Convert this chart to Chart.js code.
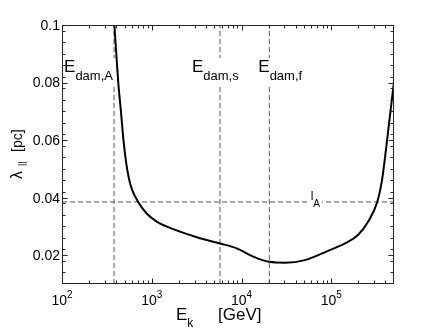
<!DOCTYPE html>
<html>
<head>
<meta charset="utf-8">
<script src="https://cdn.jsdelivr.net/npm/chart.js@4/dist/chart.umd.min.js"></script>
<style>
html,body{margin:0;padding:0;background:#fff;}
#c{display:block;}
</style>
</head>
<body>
<canvas id="c" width="436" height="330"></canvas>
<script>
// ---------- data ----------
const energyGeV = [383, 400, 424, 454, 484, 517, 558, 603, 703, 878, 1136, 1597, 2064, 3447, 5760, 8840, 13540, 20400, 30520, 51000, 92000, 142300, 198600, 256800, 326000, 367800, 414800, 451500, 500000];
const lambdaPc  = [0.1, 0.0913, 0.0798, 0.0698, 0.0600, 0.0524, 0.0465, 0.0428, 0.0386, 0.0345, 0.0317, 0.0295, 0.0282, 0.0259, 0.0241, 0.0224, 0.0195, 0.0177, 0.0174, 0.0183, 0.0215, 0.0241, 0.0270, 0.0316, 0.0386, 0.0461, 0.0589, 0.0687, 0.0802];
const dampingEnergies = [380, 5750, 20400];
const dampingSubscripts = ['dam,A', 'dam,s', 'dam,f'];
const lA = 0.0385;
const xRange = [100, 500000];
const yRange = [0.01, 0.1];
const xTickValues = [100, 1000, 10000, 100000];
const xTickExponents = ['2', '3', '4', '5'];
const yTickValues = [0.02, 0.04, 0.06, 0.08, 0.1];
const yTickLabels = ['0.02', '0.04', '0.06', '0.08', '0.1'];
const yMinorStep = 0.004;

// ---------- drawing helpers ----------
const FONT = "'Liberation Sans', Arial, Helvetica, sans-serif";
function measureParts(ctx, parts) {
  let w = 0;
  for (const p of parts) { ctx.font = p[1] + 'px ' + FONT; w += ctx.measureText(p[0]).width; }
  return w;
}
function drawParts(ctx, parts, x, y, align) {
  const total = measureParts(ctx, parts);
  let cx = align === 'center' ? x - total / 2 : (align === 'right' ? x - total : x);
  ctx.textAlign = 'left';
  ctx.textBaseline = 'alphabetic';
  for (const p of parts) {
    ctx.font = p[1] + 'px ' + FONT;
    ctx.fillText(p[0], cx, y + (p[2] || 0));
    cx += ctx.measureText(p[0]).width;
  }
  return total;
}

const annotationPlugin = {
  id: 'annot',
  afterDatasetDraw(chart, args) {
    if (args.index !== 1) return;
    const ctx = chart.ctx;
    const xs = chart.scales.x, ys = chart.scales.y;
    ctx.save();
    const labels = [];
    const offsets = [-50, -28, -11];
    dampingEnergies.forEach((e, i) => {
      const px = xs.getPixelForValue(e);
      labels.push({parts: [['E', 17, 0], [dampingSubscripts[i], 13, 8]], x: px + offsets[i], y: 72, top: 58, bottom: 84});
    });
    const ly = ys.getPixelForValue(lA);
    labels.push({parts: [['l', 12, 0], ['A', 10, 7]], x: 310.7, y: ly - 1.5, top: ly - 11, bottom: ly + 7});
    for (const l of labels) {
      const w = measureParts(ctx, l.parts);
      ctx.fillStyle = '#fff';
      ctx.fillRect(l.x - 2, l.top, w + 4, l.bottom - l.top);
      ctx.fillStyle = '#000';
      drawParts(ctx, l.parts, l.x, l.y, 'left');
    }
    ctx.restore();
  },
  afterDraw(chart) {
    const ctx = chart.ctx;
    const a = chart.chartArea;
    const xs = chart.scales.x, ys = chart.scales.y;
    ctx.save();
    // frame
    ctx.strokeStyle = '#262626';
    ctx.lineWidth = 1;
    ctx.strokeRect(Math.round(a.left) + 0.5, Math.round(a.top) + 0.5, Math.round(a.right - a.left) - 1, Math.round(a.bottom - a.top) - 1);
    ctx.beginPath();
    const L = Math.round(a.left) + 0.5, R = Math.round(a.right) - 0.5, T = Math.round(a.top) + 0.5, B = Math.round(a.bottom) - 0.5;
    // x ticks
    const xTick = (v, len) => {
      const px = Math.round(xs.getPixelForValue(v)) + 0.5;
      ctx.moveTo(px, B); ctx.lineTo(px, B - len);
      ctx.moveTo(px, T); ctx.lineTo(px, T + len);
    };
    for (let d = 2; d <= 5; d++) {
      const base = Math.pow(10, d);
      xTick(base, 5);
      for (let k = 2; k <= 9; k++) { const v = k * base; if (v < xRange[1]) xTick(v, 3); }
    }
    // y ticks
    const yTick = (v, len) => {
      const py = Math.round(ys.getPixelForValue(v)) + 0.5;
      ctx.moveTo(L, py); ctx.lineTo(L + len, py);
      ctx.moveTo(R, py); ctx.lineTo(R - len, py);
    };
    for (let i = 1; i * yMinorStep + yRange[0] < yRange[1] + 1e-9; i++) {
      const v = +(yRange[0] + i * yMinorStep).toFixed(4);
      if (yTickValues.some(t => Math.abs(t - v) < 1e-6)) continue;
      yTick(v, 3);
    }
    yTickValues.forEach(v => yTick(v, 5));
    ctx.stroke();

    ctx.fillStyle = '#000';
    // y tick labels
    ctx.font = '14px ' + FONT;
    ctx.textAlign = 'right';
    ctx.textBaseline = 'middle';
    yTickValues.forEach((v, i) => ctx.fillText(yTickLabels[i], a.left - 2, ys.getPixelForValue(v) + 1));
    // x tick labels
    xTickValues.forEach((v, i) => {
      drawParts(ctx, [['10', 14, 0], [xTickExponents[i], 10, -7]], xs.getPixelForValue(v), 305, 'center');
    });
    // x title
    drawParts(ctx, [['E', 17, 0], ['k', 12, 7]], 176, 320, 'left');
    drawParts(ctx, [['[GeV]', 17, 0]], 218, 320, 'left');
    // y title (rotated)
    ctx.translate(22, 179);
    ctx.rotate(-Math.PI / 2);
    ctx.textAlign = 'left';
    ctx.textBaseline = 'alphabetic';
    ctx.font = '16px ' + FONT;
    ctx.fillText('\u03BB', 0, 0);
    ctx.font = '9px ' + FONT;
    ctx.fillText('||', 13, 3);
    ctx.font = '14px ' + FONT;
    ctx.fillText('[pc]', 27, 0);
    ctx.restore();
  }
};

const curve = energyGeV.map((e, i) => ({x: e, y: lambdaPc[i]}));
const dashed = {borderColor: '#555', borderWidth: 1, borderDash: [5, 3], pointRadius: 0, showLine: true, fill: false};
const datasets = [
  {data: curve, borderColor: '#000', borderWidth: 2, pointRadius: 0, showLine: true, fill: false, cubicInterpolationMode: 'monotone'},
  Object.assign({data: [{x: xRange[0], y: lA}, {x: xRange[1], y: lA}]}, dashed)
];
dampingEnergies.forEach(e => datasets.push(Object.assign({data: [{x: e, y: yRange[0]}, {x: e, y: yRange[1]}]}, dashed)));

new Chart(document.getElementById('c'), {
  type: 'scatter',
  data: {datasets},
  options: {
    responsive: false,
    animation: false,
    devicePixelRatio: 1,
    layout: {padding: {left: 0, top: 25, right: 42, bottom: 0}},
    plugins: {legend: {display: false}, tooltip: {enabled: false}},
    scales: {
      x: {type: 'logarithmic', min: xRange[0], max: xRange[1], ticks: {display: false}, grid: {display: false}, border: {display: false},
          afterFit(s) { s.height = 46; }},
      y: {type: 'linear', min: yRange[0], max: yRange[1], ticks: {display: false}, grid: {display: false}, border: {display: false},
          afterFit(s) { s.width = 62; }}
    }
  },
  plugins: [annotationPlugin]
});
</script>
</body>
</html>
